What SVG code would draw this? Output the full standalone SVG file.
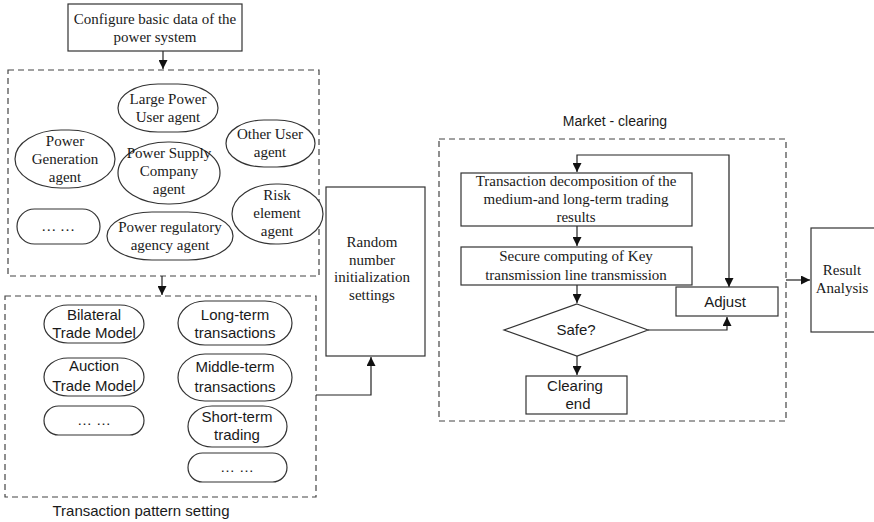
<svg xmlns="http://www.w3.org/2000/svg" width="874" height="522" viewBox="0 0 874 522">
  <defs>
    <marker id="arrow" viewBox="0 0 10 10" refX="10" refY="5" markerWidth="9" markerHeight="9" markerUnits="userSpaceOnUse" orient="auto-start-reverse">
      <path d="M0,0 L10,5 L0,10 z" fill="#111"/>
    </marker>
  </defs>
  <style>
    .box { fill: #fff; stroke: #333; stroke-width: 1.2; }
    .dash { fill: none; stroke: #444; stroke-width: 1.2; stroke-dasharray: 6 4; }
    .serif { font-family: "Liberation Serif", "Times New Roman", serif; font-size: 15px; fill: #1a1a1a; text-anchor: middle; }
    .sans { font-family: "Liberation Sans", Arial, sans-serif; font-size: 15px; fill: #1a1a1a; text-anchor: middle; }
    .edge { fill: none; stroke: #222; stroke-width: 1.2; }
  </style>
  <rect width="874" height="522" fill="#fff"/>

  <!-- group frames -->
  <g id="frames">
    <rect class="dash" x="8" y="70" width="311" height="206"/>
    <rect class="dash" x="5" y="296" width="311" height="201"/>
    <text class="sans" x="141" y="516">Transaction pattern setting</text>
    <rect class="dash" x="439" y="139" width="347" height="282"/>
    <text class="sans" x="615" y="126" style="font-size:14px">Market - clearing</text>
  </g>

  <!-- connectors -->
  <g id="connectors">
    <path class="edge" d="M163,51 L163,69" marker-end="url(#arrow)"/>
    <path class="edge" d="M162,276 L162,295" marker-end="url(#arrow)"/>
    <path class="edge" d="M316,395 L371,395 L371,357" marker-end="url(#arrow)"/>
    <path class="edge" d="M729,287 L729,155 L577,155 L577,172" marker-start="url(#arrow)" marker-end="url(#arrow)"/>
    <path class="edge" d="M577,226 L577,246" marker-end="url(#arrow)"/>
    <path class="edge" d="M577,285 L577,303" marker-end="url(#arrow)"/>
    <path class="edge" d="M648,330 L727,330 L727,317" marker-end="url(#arrow)"/>
    <path class="edge" d="M577,356 L577,375" marker-end="url(#arrow)"/>
    <path class="edge" d="M786,280 L810,280" marker-end="url(#arrow)"/>
  </g>

  <g id="configure">
    <rect class="box" x="68" y="4" width="174" height="47"/>
    <text class="serif" x="155" y="24">Configure basic data of the</text>
    <text class="serif" x="155" y="42">power system</text>
  </g>

  <g id="large-power-user">
    <rect class="box" x="118" y="84" width="100" height="48" rx="40" ry="24"/>
    <text class="serif" x="168" y="104">Large Power</text>
    <text class="serif" x="168" y="122">User agent</text>
  </g>
  <g id="power-generation">
    <rect class="box" x="15" y="130" width="100" height="58" rx="46" ry="29"/>
    <text class="serif" x="65" y="146">Power</text>
    <text class="serif" x="65" y="164">Generation</text>
    <text class="serif" x="65" y="182">agent</text>
  </g>
  <g id="power-supply">
    <rect class="box" x="118" y="142" width="102" height="62" rx="50" ry="31"/>
    <text class="serif" x="169" y="158">Power Supply</text>
    <text class="serif" x="169" y="176">Company</text>
    <text class="serif" x="169" y="194">agent</text>
  </g>
  <g id="other-user">
    <rect class="box" x="226" y="120" width="89" height="47" rx="38" ry="23.5"/>
    <text class="serif" x="270" y="139">Other User</text>
    <text class="serif" x="270" y="157">agent</text>
  </g>
  <g id="risk-element">
    <rect class="box" x="232" y="184" width="91" height="60" rx="44" ry="30"/>
    <text class="serif" x="277" y="200">Risk</text>
    <text class="serif" x="277" y="218">element</text>
    <text class="serif" x="277" y="236">agent</text>
  </g>
  <g id="agents-more">
    <rect class="box" x="17" y="209" width="83" height="35" rx="17.5" ry="17.5"/>
    <text class="serif" x="58" y="231">… …</text>
  </g>
  <g id="regulatory-agency">
    <rect class="box" x="107" y="212" width="126" height="48" rx="45" ry="24"/>
    <text class="serif" x="170" y="232">Power regulatory</text>
    <text class="serif" x="170" y="250">agency agent</text>
  </g>

  <g id="bilateral">
    <rect class="box" x="44" y="305" width="100" height="38" rx="24" ry="19"/>
    <text class="sans" x="94" y="320">Bilateral</text>
    <text class="sans" x="94" y="338">Trade Model</text>
  </g>
  <g id="auction">
    <rect class="box" x="44" y="358" width="100" height="38" rx="24" ry="19"/>
    <text class="sans" x="94" y="371">Auction</text>
    <text class="sans" x="94" y="391">Trade Model</text>
  </g>
  <g id="models-more">
    <rect class="box" x="44" y="406" width="100" height="29" rx="14.5" ry="14.5"/>
    <text class="sans" x="94" y="425">… …</text>
  </g>
  <g id="long-term">
    <rect class="box" x="178" y="301" width="114" height="44" rx="27" ry="22"/>
    <text class="sans" x="235" y="320">Long-term</text>
    <text class="sans" x="235" y="338">transactions</text>
  </g>
  <g id="middle-term">
    <rect class="box" x="178" y="354" width="114" height="47" rx="27" ry="23.5"/>
    <text class="sans" x="235" y="372">Middle-term</text>
    <text class="sans" x="235" y="392">transactions</text>
  </g>
  <g id="short-term">
    <rect class="box" x="188" y="406" width="99" height="41" rx="24" ry="20.5"/>
    <text class="sans" x="237" y="422">Short-term</text>
    <text class="sans" x="237" y="440">trading</text>
  </g>
  <g id="terms-more">
    <rect class="box" x="188" y="453" width="99" height="29" rx="14.5" ry="14.5"/>
    <text class="sans" x="237" y="472">… …</text>
  </g>

  <g id="random-init">
    <rect class="box" x="326" y="187" width="99" height="169"/>
    <text class="serif" x="372" y="247">Random</text>
    <text class="serif" x="372" y="265">number</text>
    <text class="serif" x="372" y="282">initialization</text>
    <text class="serif" x="372" y="300">settings</text>
  </g>

  <g id="decomposition">
    <rect class="box" x="461" y="173" width="231" height="53"/>
    <text class="serif" x="576" y="186">Transaction decomposition of the</text>
    <text class="serif" x="576" y="204">medium-and long-term trading</text>
    <text class="serif" x="576" y="222">results</text>
  </g>
  <g id="secure-computing">
    <rect class="box" x="461" y="247" width="231" height="38"/>
    <text class="serif" x="576" y="261">Secure computing of Key</text>
    <text class="serif" x="576" y="280">transmission line transmission</text>
  </g>
  <g id="safe">
    <polygon class="box" points="577,304 648,330 577,356 504,330"/>
    <text class="sans" x="576" y="335">Safe?</text>
  </g>
  <g id="adjust">
    <rect class="box" x="676" y="287" width="102" height="29"/>
    <text class="sans" x="725" y="307">Adjust</text>
  </g>
  <g id="clearing-end">
    <rect class="box" x="526" y="376" width="101" height="38"/>
    <text class="sans" x="575" y="391">Clearing</text>
    <text class="sans" x="578" y="409">end</text>
  </g>
  <g id="result-analysis">
    <rect class="box" x="811" y="228" width="70" height="104"/>
    <text class="serif" x="842" y="275">Result</text>
    <text class="serif" x="842" y="293">Analysis</text>
  </g>
</svg>
